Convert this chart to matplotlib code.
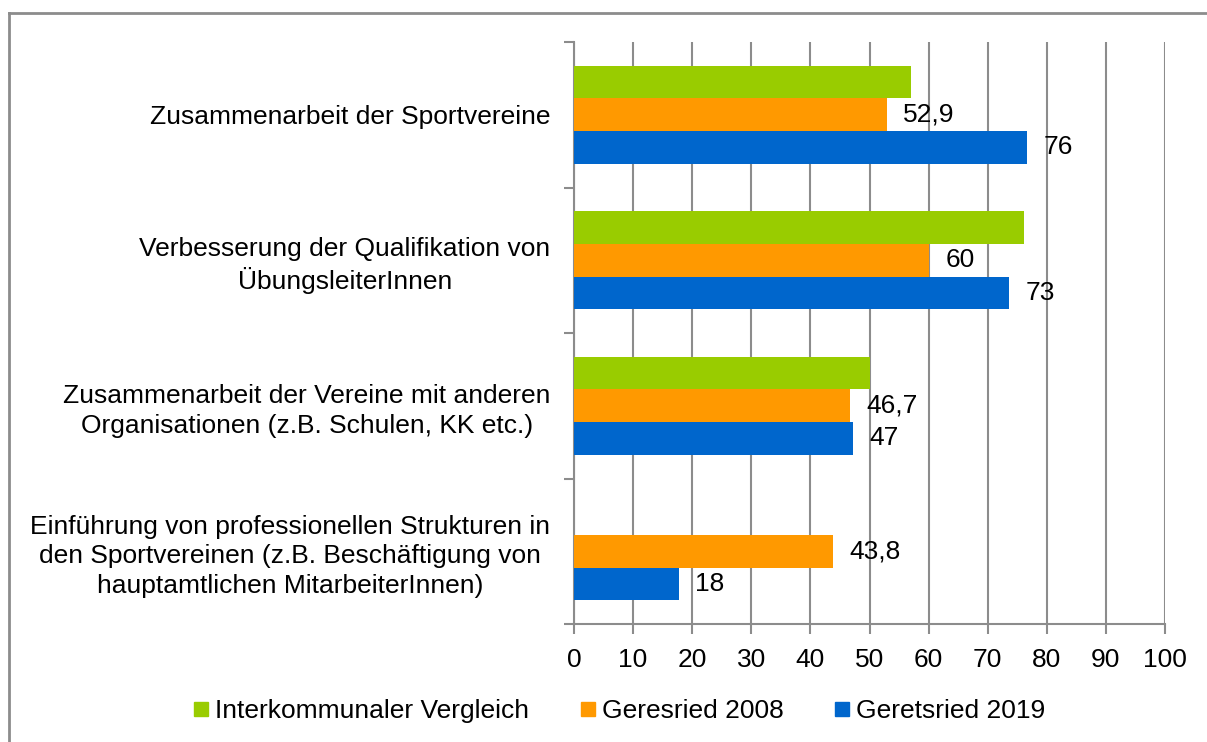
import numpy as np
import matplotlib.pyplot as plt
from matplotlib.lines import Line2D

plt.rcParams['font.family'] = ['Liberation Sans', 'DejaVu Sans']

categories = [
    "Zusammenarbeit der Sportvereine",
    "Verbesserung der Qualifikation von\nÜbungsleiterInnen",
    "Zusammenarbeit der Vereine mit anderen\nOrganisationen (z.B. Schulen, KK etc.)",
    "Einführung von professionellen Strukturen in\nden Sportvereinen (z.B. Beschäftigung von\nhauptamtlichen MitarbeiterInnen)",
]
series_names = ["Interkommunaler Vergleich", "Geresried 2008", "Geretsried 2019"]
interkommunal = [57.1, 76.1, 50.1, np.nan]
geresried_2008 = [52.9, 60, 46.7, 43.8]
geretsried_2019 = [76.6, 73.6, 47.2, 17.7]
label_2008 = ["52,9", "60", "46,7", "43,8"]
label_2019 = ["76", "73", "47", "18"]
colors = ["#99cc00", "#ff9900", "#0066cc"]
xticks = list(range(0, 101, 10))

FS = 19
GRID = "#8c8c8c"

fig = plt.figure(figsize=(12.07, 7.42), dpi=100)
ax = fig.add_axes([574 / 1207, 118 / 742, 591 / 1207, 582 / 742])

n = len(categories)
y = np.arange(n)
h = 0.224
ax.barh(y - h, interkommunal, height=h, color=colors[0], zorder=3)
b2 = ax.barh(y, geresried_2008, height=h, color=colors[1], zorder=3)
b3 = ax.barh(y + h, geretsried_2019, height=h, color=colors[2], zorder=3)

ax.bar_label(b2, labels=label_2008, padding=12, fontsize=FS)
ax.bar_label(b3, labels=label_2019, padding=12, fontsize=FS)

ax.set_xlim(0, 100)
ax.set_ylim(n - 0.5, -0.5)
ax.set_xticks(xticks)
ax.set_xticklabels([str(t) for t in xticks], fontsize=FS)
ax.xaxis.grid(True, color=GRID, linewidth=1.5, zorder=0)

ax.set_yticks(y)
ax.set_yticklabels(categories, fontsize=FS, ha="right", multialignment="center",
                   linespacing=1.28)
ax.tick_params(axis="y", length=0, pad=17)
ax.set_yticks(np.arange(n + 1) - 0.5, minor=True)
ax.tick_params(axis="y", which="minor", length=7, width=1.5, color=GRID, direction="out")
ax.tick_params(axis="x", length=7, width=1.5, color=GRID, direction="out", pad=10)

for s in ["top", "right"]:
    ax.spines[s].set_visible(False)
for s in ["left", "bottom"]:
    ax.spines[s].set_color(GRID)
    ax.spines[s].set_linewidth(1.5)

handles = [Line2D([], [], marker="s", linestyle="", color=c, markersize=10) for c in colors]
fig.legend(handles, series_names, loc="center", bbox_to_anchor=(620 / 1207, 1 - 711 / 742),
           ncol=3, frameon=False, fontsize=FS, handlelength=0.5, handletextpad=0.3,
           columnspacing=1.95)

# outer frame
fig.add_artist(Line2D([9 / 1207, 1.0], [1 - 12.5 / 742] * 2, transform=fig.transFigure,
                      color=GRID, linewidth=2))
fig.add_artist(Line2D([9 / 1207] * 2, [0, 1 - 12.5 / 742], transform=fig.transFigure,
                      color=GRID, linewidth=2))

fig.savefig("out.png", dpi=100)
